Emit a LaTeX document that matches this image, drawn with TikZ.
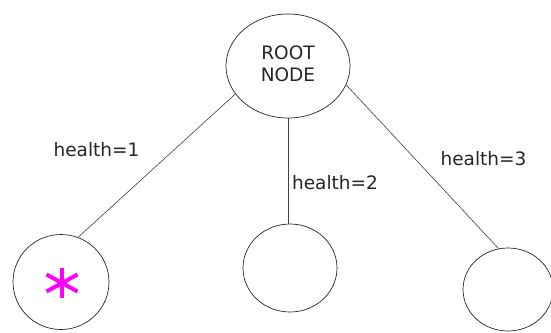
\documentclass[tikz,border=0pt]{standalone}
\usepackage{fontspec}
\setmainfont{DejaVu Sans}
\usetikzlibrary{shapes.geometric}
\definecolor{starmag}{RGB}{255,0,255}
\tikzset{
  treenode/.style={draw=black!85, line width=0.7pt, ellipse, inner sep=0pt},
  edge/.style={draw=black!75, line width=0.6pt},
  lbl/.style={font=\fontsize{18.5}{22}\selectfont, text=black!85, inner sep=0pt},
  starline/.style={draw=starmag, line width=4pt},
}
\begin{document}
\begin{tikzpicture}[x=1pt,y=-1pt]
\useasboundingbox (0,0) rectangle (551,332);
\node[treenode, minimum width=124pt, minimum height=104pt] (root) at (288,66) {};
\node[lbl, align=center, font=\fontsize{18.5}{22}\selectfont] (roottext) at (288,64) {ROOT\\NODE};
\node[treenode, minimum width=96pt, minimum height=95pt] (c1) at (61,282) {};
\node[treenode, minimum width=94pt, minimum height=88pt] (c2) at (290,268) {};
\node[treenode, minimum width=90pt, minimum height=83pt] (c3) at (508,289.5) {};
\coordinate (star) at (62,283);
\draw[starline] ([yshift=-15pt]star) -- ([yshift=15pt]star);
\draw[starline] ([shift={(-15.5,-8.5)}]star) -- ([shift={(15.5,8.5)}]star);
\draw[starline] ([shift={(-15.5,8.5)}]star) -- ([shift={(15.5,-8.5)}]star);
\draw[edge] (root.208.7) -- (c1.69);
\draw[edge] (root.south) -- (root.south |- c2.north);
\draw[edge] (root.342.4) -- (c3.103);
\node[lbl] (l1) at (96.5,150) {health=1};
\node[lbl] (l2) at (335,183) {health=2};
\node[lbl] (l3) at (483.5,159) {health=3};
\end{tikzpicture}
\end{document}
